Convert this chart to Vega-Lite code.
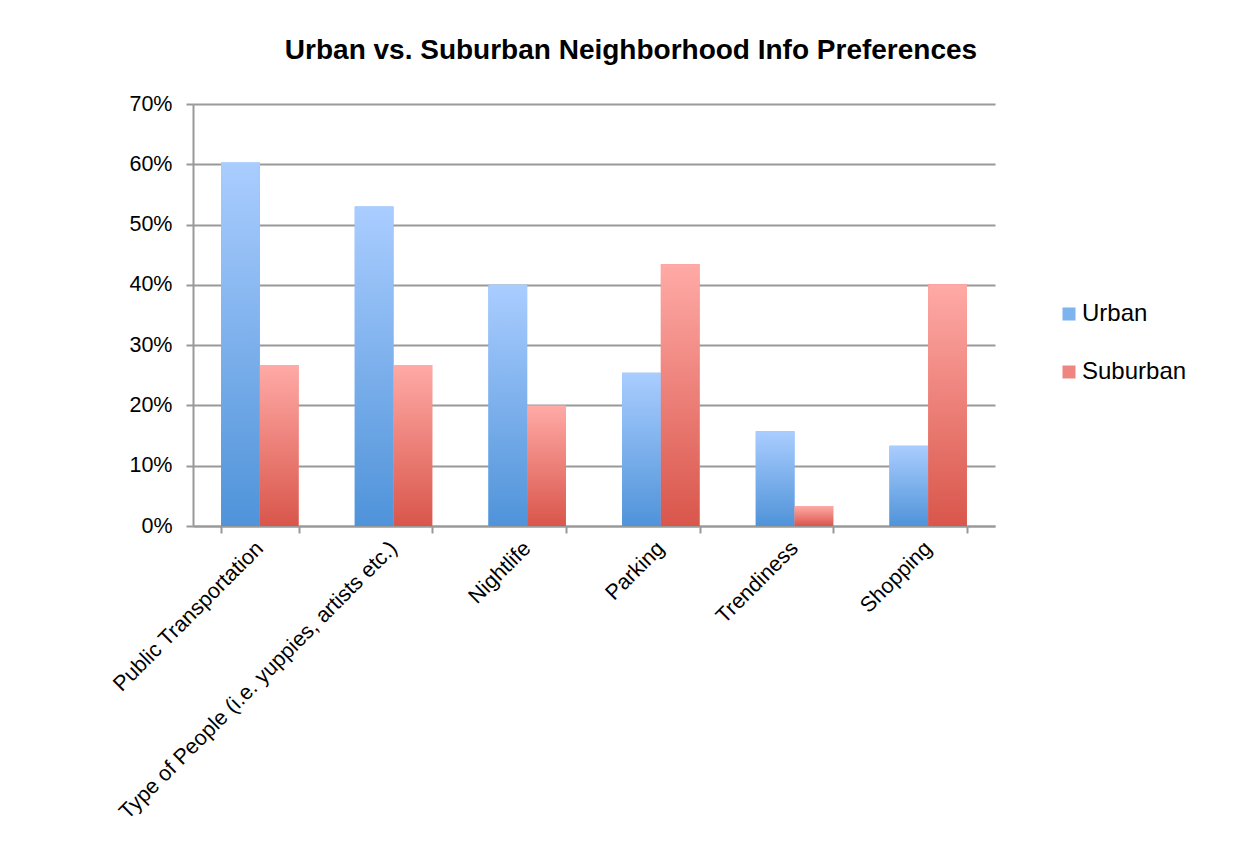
{
  "$schema": "https://vega.github.io/schema/vega-lite/v6.json",
  "autosize": "none",
  "width": 802,
  "height": 422,
  "padding": {"left": 193, "top": 104, "right": 257, "bottom": 324},
  "background": "white",
  "title": {
    "text": "Urban vs. Suburban Neighborhood Info Preferences",
    "font": "Liberation Sans",
    "fontSize": 28,
    "fontWeight": "bold",
    "color": "black",
    "anchor": "middle",
    "dx": 37,
    "offset": 28
  },
  "data": {
    "values": [
      {"category": "Public Transportation", "series": "Urban", "value": 0.603},
      {"category": "Public Transportation", "series": "Suburban", "value": 0.267},
      {"category": "Type of People (i.e. yuppies, artists etc.)", "series": "Urban", "value": 0.530},
      {"category": "Type of People (i.e. yuppies, artists etc.)", "series": "Suburban", "value": 0.267},
      {"category": "Nightlife", "series": "Urban", "value": 0.400},
      {"category": "Nightlife", "series": "Suburban", "value": 0.200},
      {"category": "Parking", "series": "Urban", "value": 0.254},
      {"category": "Parking", "series": "Suburban", "value": 0.434},
      {"category": "Trendiness", "series": "Urban", "value": 0.157},
      {"category": "Trendiness", "series": "Suburban", "value": 0.033},
      {"category": "Shopping", "series": "Urban", "value": 0.133},
      {"category": "Shopping", "series": "Suburban", "value": 0.401}
    ]
  },
  "encoding": {
    "x": {
      "field": "category",
      "type": "nominal",
      "sort": null,
      "title": null,
      "scale": {"paddingInner": 0.42, "paddingOuter": 0.21},
      "axis": {
        "tickBand": "extent",
        "labelAngle": -45,
        "labelAlign": "right",
        "labelBaseline": "middle",
        "labelFont": "Liberation Sans",
        "labelFontSize": 21.5,
        "labelColor": "black",
        "labelPadding": 12,
        "labelLimit": 600,
        "tickSize": 7,
        "tickColor": "#999999",
        "tickWidth": 2,
        "domainColor": "#999999",
        "domainWidth": 2,
        "grid": false
      }
    },
    "xOffset": {"field": "series", "type": "nominal", "scale": {"domain": ["Urban", "Suburban"]}},
    "y": {
      "field": "value",
      "type": "quantitative",
      "title": null,
      "scale": {"domain": [0, 0.7]},
      "axis": {
        "values": [0, 0.1, 0.2, 0.3, 0.4, 0.5, 0.6, 0.7],
        "format": ".0%",
        "labelFont": "Liberation Sans",
        "labelFontSize": 21.5,
        "labelColor": "black",
        "labelPadding": 14,
        "tickSize": 7,
        "tickColor": "#999999",
        "tickWidth": 2,
        "domainColor": "#999999",
        "domainWidth": 2,
        "gridColor": "#999999",
        "gridWidth": 2
      }
    }
  },
  "layer": [
    {
      "mark": {"type": "bar"},
      "encoding": {
        "color": {
          "field": "series",
          "type": "nominal",
          "scale": {"domain": ["Urban", "Suburban"], "range": ["#7db3ef", "#ee8580"]},
          "legend": {
            "title": null,
            "orient": "none",
            "legendX": 864,
            "legendY": 198,
            "symbolType": "square",
            "symbolSize": 169,
            "symbolStrokeWidth": 0,
            "labelFont": "Liberation Sans",
            "labelFontSize": 24,
            "labelColor": "black",
            "labelOffset": 1,
            "rowPadding": 34,
            "encode": {
              "symbols": {
                "update": {
                  "fill": [
                    {"test": "datum.value === 'Urban'", "value": {"gradient": "linear", "x1": 0, "y1": 0, "x2": 0, "y2": 1, "stops": [{"offset": 0, "color": "#aacdff"}, {"offset": 1, "color": "#4f93d9"}]}},
                    {"value": {"gradient": "linear", "x1": 0, "y1": 0, "x2": 0, "y2": 1, "stops": [{"offset": 0, "color": "#ffaaa6"}, {"offset": 1, "color": "#d9564b"}]}}
                  ]
                }
              }
            }
          }
        }
      }
    },
    {
      "transform": [{"filter": "datum.series === 'Urban'"}],
      "mark": {"type": "bar", "fill": {"gradient": "linear", "x1": 0, "y1": 0, "x2": 0, "y2": 1, "stops": [{"offset": 0, "color": "#aacdff"}, {"offset": 1, "color": "#4f93d9"}]}}
    },
    {
      "transform": [{"filter": "datum.series === 'Suburban'"}],
      "mark": {"type": "bar", "fill": {"gradient": "linear", "x1": 0, "y1": 0, "x2": 0, "y2": 1, "stops": [{"offset": 0, "color": "#ffaaa6"}, {"offset": 1, "color": "#d9564b"}]}}
    }
  ],
  "config": {
    "view": {"stroke": null},
    "axis": {"labelFont": "Liberation Sans"}
  }
}
